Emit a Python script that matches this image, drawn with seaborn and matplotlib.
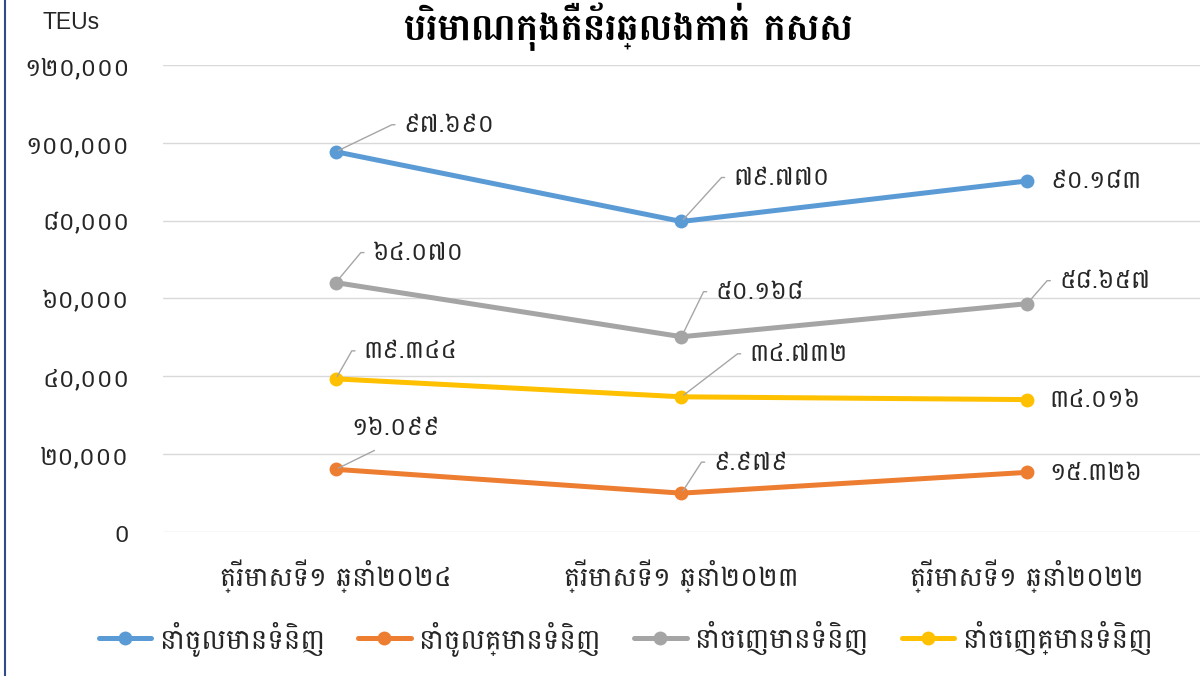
import math

import matplotlib
matplotlib.use("Agg")
import matplotlib.pyplot as plt
import pandas as pd
import seaborn as sns
from matplotlib.ticker import FuncFormatter

# --- data ---
quarters = ["ត្រីមាសទី១ ឆ្នាំ២០២៤", "ត្រីមាសទី១ ឆ្នាំ២០២៣", "ត្រីមាសទី១ ឆ្នាំ២០២២"]
series_names = ["នាំចូលមានទំនិញ", "នាំចូលគ្មានទំនិញ", "នាំចេញមានទំនិញ", "នាំចេញគ្មានទំនិញ"]
import_full = [97690, 79770, 90183]
import_empty = [16099, 9979, 15326]
export_full = [64070, 50168, 58657]
export_empty = [39344, 34732, 34016]
y_ticks = [0, 20000, 40000, 60000, 80000, 100000, 120000]

title = "បរិមាណកុងតឺន័រឆ្លងកាត់ កសស"
unit_label = "TEUs"

colors = ["#5b9bd5", "#ed7d31", "#a5a5a5", "#ffc000"]

# label offsets in pixels (dx, dy) and leader style
label_offsets = [
    [(68, 27, "leader"), (52, 44, "leader"), (23, 0, None)],
    [(16, 42, "straight"), (32, 31, "leader"), (22, 0, None)],
    [(37, 30, "leader"), (34, 45, "leader"), (32, 23, "leader")],
    [(28, 28, "leader"), (68, 43, "leader"), (22, 0, None)],
]

KHMER_DIGITS = str.maketrans("0123456789", "០១២៣៤៥៦៧៨៩")


def khmer_num(value, sep):
    return f"{value:,}".replace(",", sep).translate(KHMER_DIGITS)


sns.set_theme(style="white")
plt.rcParams["font.family"] = ["Battambang", "DejaVu Sans"]

values = [import_full, import_empty, export_full, export_empty]
df = pd.DataFrame(
    [(q, name, v) for name, vals in zip(series_names, values) for q, v in zip(quarters, vals)],
    columns=["quarter", "series", "teu"],
)

fig = plt.figure(figsize=(12.03, 6.76), dpi=100)
ax = fig.add_axes([0.1355, 0.213, 0.862, 0.691])

sns.lineplot(
    data=df, x="quarter", y="teu", hue="series", hue_order=series_names,
    palette=colors, marker="o", markersize=10, markeredgewidth=0,
    linewidth=3.6, ax=ax, legend=True,
)

ax.set_xlim(-0.5, 2.5)
ax.set_ylim(0, 120000)
ax.set_yticks(y_ticks)
ax.yaxis.set_major_formatter(FuncFormatter(lambda v, _: khmer_num(int(v), ",")))
ax.grid(axis="y", color="#d9d9d9", linewidth=1)
ax.set_axisbelow(True)
for side in ax.spines.values():
    side.set_visible(False)
ax.tick_params(axis="y", length=0, pad=24, labelsize=18, labelcolor="#262626")
ax.tick_params(axis="x", length=0, pad=20, labelsize=19.5, labelcolor="#262626")
ax.set_xlabel("")
ax.set_ylabel("")

# data labels
for i, vals in enumerate(values):
    for j, v in enumerate(vals):
        dx, dy, kind = label_offsets[i][j]
        text = khmer_num(v, ".")
        style = dict(fontsize=18, color="#262626", va="center", ha="left")
        if kind == "leader":
            ang = math.degrees(math.atan2(dy, dx - 12))
            ax.annotate(
                text, xy=(j, v), xytext=(dx, dy), textcoords="offset pixels", **style,
                arrowprops=dict(arrowstyle="-", color="#a6a6a6", lw=1,
                                connectionstyle=f"angle,angleA=180,angleB={ang:.1f},rad=0",
                                relpos=(0, 0.5), shrinkA=4, shrinkB=2),
            )
        elif kind == "straight":
            ax.annotate(
                text, xy=(j, v), xytext=(dx, dy), textcoords="offset pixels", **style,
                arrowprops=dict(arrowstyle="-", color="#a6a6a6", lw=1,
                                relpos=(0.5, 0), shrinkA=12, shrinkB=2),
            )
        else:
            ax.annotate(text, xy=(j, v), xytext=(dx, dy), textcoords="offset pixels", **style)

leg = ax.legend(
    loc="center", bbox_to_anchor=(0.52, 0.056), bbox_transform=fig.transFigure,
    ncol=4, frameon=False, fontsize=20, handlelength=1.9, columnspacing=1.2,
    handletextpad=0.3,
)
for line in leg.get_lines():
    line.set_linewidth(3.6)

fig.text(0.522, 0.96, title, ha="center", va="center", fontsize=27,
         fontweight="bold", color="black")
fig.text(0.059, 0.966, unit_label, ha="center", va="center", fontsize=16.5,
         color="#262626", family=["Liberation Sans", "DejaVu Sans"])
fig.add_artist(plt.Line2D([0.004, 0.004], [0, 1], transform=fig.transFigure,
                          color="#2f4b8a", linewidth=1.5))

fig.savefig("out.png", dpi=100)
